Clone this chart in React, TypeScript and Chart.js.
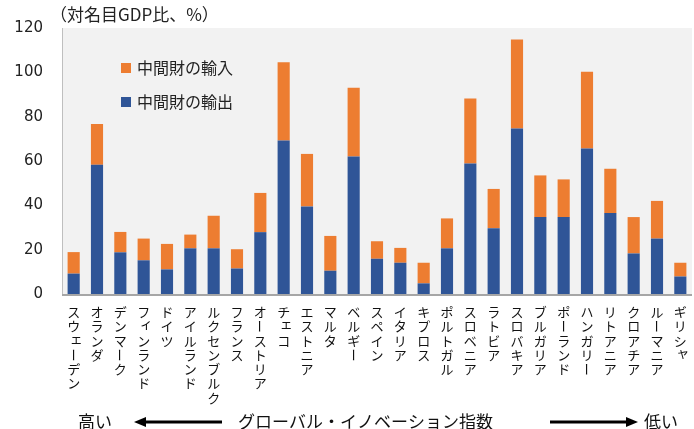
import React, { useEffect, useRef } from "react";
import { Chart, registerables } from "chart.js";

Chart.register(...registerables);

const countries = [
  "スウェーデン", "オランダ", "デンマーク", "フィンランド", "ドイツ", "アイルランド",
  "ルクセンブルク", "フランス", "オーストリア", "チェコ", "エストニア", "マルタ",
  "ベルギー", "スペイン", "イタリア", "キプロス", "ポルトガル", "スロベニア",
  "ラトビア", "スロバキア", "ブルガリア", "ポーランド", "ハンガリー", "リトアニア",
  "クロアチア", "ルーマニア", "ギリシャ",
];
const exportsIntermediate = [
  9.2, 58.3, 18.8, 15.2, 11.1, 20.6, 20.6, 11.5, 27.9, 69.2, 39.5, 10.5,
  62.0, 15.9, 14.1, 4.8, 20.6, 58.9, 29.7, 74.7, 34.7, 34.7, 65.6, 36.5,
  18.3, 25.0, 7.9,
];
const importsIntermediate = [
  9.7, 18.4, 9.2, 9.8, 11.5, 6.2, 14.7, 8.7, 17.7, 35.3, 23.7, 15.7,
  31.0, 7.9, 6.7, 9.3, 13.5, 29.3, 17.7, 40.1, 18.8, 17.0, 34.7, 20.0,
  16.4, 17.0, 6.2,
];
const seriesLabels = ["中間財の輸出", "中間財の輸入"];
const yTitle = "（対名目GDP比、%）";
const axisNoteLeft = "高い";
const axisNoteCenter = "グローバル・イノベーション指数";
const axisNoteRight = "低い";

const BLUE = "#2f5597";
const ORANGE = "#ed7d31";
const JP = "'Noto Sans CJK JP', 'Noto Sans', sans-serif";

const smallKana = "ャュョッァィゥェォ";

const drawPlugin = {
  id: "customDraw",
  beforeDraw(chart: any) {
    const { ctx, chartArea } = chart;
    ctx.save();
    ctx.fillStyle = "#f2f2f2";
    ctx.fillRect(chartArea.left, chartArea.top, chartArea.right - chartArea.left, chartArea.bottom - chartArea.top);
    ctx.restore();
  },
  afterDraw(chart: any) {
    const { ctx, chartArea } = chart;
    const xScale = chart.scales.x;
    ctx.save();
    // axis lines
    ctx.strokeStyle = "#bfbfbf";
    ctx.lineWidth = 1;
    ctx.beginPath();
    ctx.moveTo(chartArea.left + 0.5, chartArea.top);
    ctx.lineTo(chartArea.left + 0.5, chartArea.bottom);
    ctx.stroke();
    ctx.strokeStyle = "#a6a6a6";
    ctx.lineWidth = 2;
    ctx.beginPath();
    ctx.moveTo(chartArea.left, chartArea.bottom + 1);
    ctx.lineTo(chartArea.right, chartArea.bottom + 1);
    ctx.stroke();

    // title
    ctx.fillStyle = "#222";
    ctx.font = `17px ${JP}`;
    ctx.textBaseline = "middle";
    ctx.textAlign = "left";
    ctx.fillText(yTitle, 50, 15);

    // legend
    const legendItems = [
      { label: seriesLabels[1], color: ORANGE, y: 68 },
      { label: seriesLabels[0], color: BLUE, y: 102 },
    ];
    legendItems.forEach((it) => {
      ctx.fillStyle = it.color;
      ctx.fillRect(121, it.y - 5, 10, 10);
      ctx.fillStyle = "#222";
      ctx.font = `16px ${JP}`;
      ctx.fillText(it.label, 137, it.y);
    });

    // vertical x labels
    ctx.font = `13px ${JP}`;
    ctx.fillStyle = "#111";
    ctx.textAlign = "center";
    ctx.textBaseline = "middle";
    const step = 14.3;
    countries.forEach((name, i) => {
      const cx = xScale.getPixelForValue(i);
      Array.from(name).forEach((ch, j) => {
        const cy = 312 + j * step;
        if (ch === "ー") {
          ctx.save();
          ctx.translate(cx, cy);
          ctx.rotate(Math.PI / 2);
          ctx.fillText(ch, 0, 0);
          ctx.restore();
        } else if (smallKana.includes(ch)) {
          ctx.fillText(ch, cx + 2.5, cy - 3);
        } else {
          ctx.fillText(ch, cx, cy);
        }
      });
    });

    // bottom note with arrows
    const ny = 422;
    ctx.font = `17px ${JP}`;
    ctx.fillStyle = "#111";
    ctx.textAlign = "left";
    ctx.fillText(axisNoteLeft, 78, ny);
    ctx.fillText(axisNoteCenter, 238, ny);
    ctx.fillText(axisNoteRight, 644, ny);

    ctx.strokeStyle = "#000";
    ctx.fillStyle = "#000";
    ctx.lineWidth = 3;
    // left arrow
    ctx.beginPath();
    ctx.moveTo(222, ny);
    ctx.lineTo(144, ny);
    ctx.stroke();
    ctx.beginPath();
    ctx.moveTo(134, ny);
    ctx.lineTo(146, ny - 5);
    ctx.lineTo(146, ny + 5);
    ctx.closePath();
    ctx.fill();
    // right arrow
    ctx.beginPath();
    ctx.moveTo(550, ny);
    ctx.lineTo(628, ny);
    ctx.stroke();
    ctx.beginPath();
    ctx.moveTo(638, ny);
    ctx.lineTo(626, ny - 5);
    ctx.lineTo(626, ny + 5);
    ctx.closePath();
    ctx.fill();
    ctx.restore();
  },
};

export default function App() {
  const ref = useRef<HTMLCanvasElement | null>(null);
  useEffect(() => {
    if (!ref.current) return;
    const chart = new Chart(ref.current, {
      type: "bar",
      data: {
        labels: countries,
        datasets: [
          {
            label: seriesLabels[0],
            data: exportsIntermediate,
            backgroundColor: BLUE,
            barPercentage: 0.52,
            categoryPercentage: 1,
          },
          {
            label: seriesLabels[1],
            data: importsIntermediate,
            backgroundColor: ORANGE,
            barPercentage: 0.52,
            categoryPercentage: 1,
          },
        ],
      },
      options: {
        animation: false,
        responsive: true,
        maintainAspectRatio: false,
        layout: { padding: { top: 28, right: 2, left: 0, bottom: 0 } },
        plugins: { legend: { display: false }, tooltip: { enabled: false }, title: { display: false } },
        scales: {
          x: {
            stacked: true,
            grid: { display: false, drawTicks: false },
            border: { display: false },
            ticks: { display: false },
            afterFit: (s: any) => {
              s.height = 429 - 294;
            },
          },
          y: {
            stacked: true,
            min: 0,
            max: 120,
            grid: { display: false, drawTicks: false },
            border: { display: false },
            ticks: {
              stepSize: 20,
              padding: 19,
              color: "#222",
              font: { size: 15, family: "'DejaVu Sans', sans-serif" },
            },
            afterFit: (s: any) => {
              s.width = 62;
            },
          },
        },
      },
      plugins: [drawPlugin],
    });
    return () => chart.destroy();
  }, []);
  return (
    <div style={{ position: "fixed", left: 0, top: 0, width: 694, height: 429, background: "#fff" }}>
      <canvas ref={ref} />
    </div>
  );
}
